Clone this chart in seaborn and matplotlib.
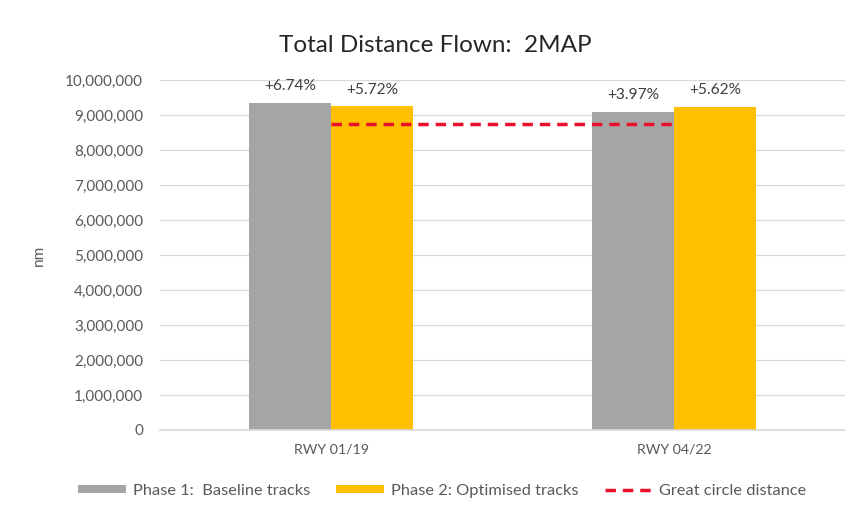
import matplotlib
matplotlib.use("Agg")
import matplotlib.pyplot as plt
import seaborn as sns
import pandas as pd
from matplotlib.ticker import FuncFormatter
from matplotlib.patches import Patch
from matplotlib.lines import Line2D

categories = ["RWY 01/19", "RWY 04/22"]
series_names = ["Phase 1:  Baseline tracks", "Phase 2: Optimised tracks"]
baseline = [9340000, 9100000]
optimised = [9250000, 9240000]
baseline_labels = ["+6.74%", "+3.97%"]
optimised_labels = ["+5.72%", "+5.62%"]
great_circle = [8750000, 8750000]
line_name = "Great circle distance"
title = "Total Distance Flown:  2MAP"
ylabel = "nm"

colors = ["#A5A5A5", "#FFC000"]
line_color = "#E8102A"

sns.set_theme(style="white")
plt.rcParams['font.family'] = ['Lato', 'DejaVu Sans']

df = pd.DataFrame({
    "cat": categories * 2,
    "series": [series_names[0]] * 2 + [series_names[1]] * 2,
    "value": baseline + optimised,
})

fig = plt.figure(figsize=(8.54, 5.13), dpi=100)
ax = fig.add_axes([0.187, 0.162, 0.803, 0.682])

sns.barplot(data=df, x="cat", y="value", hue="series", palette=colors,
            width=0.48, ax=ax, legend=False, saturation=1, errorbar=None,
            linewidth=0, edgecolor="none")

ax.plot([0, 1], great_circle, color=line_color, linestyle=(0, (3, 2)), linewidth=2.5, zorder=5)

labels = baseline_labels + optimised_labels
for patch, lab in zip(ax.patches, labels):
    x = patch.get_x() + patch.get_width() / 2
    h = patch.get_height()
    ax.annotate(lab, (x, h), xytext=(0, 7), textcoords="offset points",
                ha="center", va="bottom", fontsize=11.2, color="#404040")

ax.set_xlim(-0.5, 1.5)
ax.set_ylim(0, 10000000)
ax.set_yticks(range(0, 10000001, 1000000))
ax.yaxis.set_major_formatter(FuncFormatter(lambda v, p: f"{int(v):,}"))
ax.grid(axis="y", color="#D9D9D9", linewidth=0.9)
ax.set_axisbelow(True)
for s in ["top", "right", "left"]:
    ax.spines[s].set_visible(False)
ax.spines["bottom"].set_color("#D9D9D9")
ax.tick_params(axis="y", length=0, labelsize=11, labelcolor="#595959", pad=12)
ax.tick_params(axis="x", length=0, labelsize=10.2, labelcolor="#595959", pad=10)
ax.set_xlabel("")
ax.set_ylabel(ylabel, fontsize=11, color="#595959", labelpad=14)

fig.text(0.51, 0.912, title, ha="center", va="center", fontsize=17.5, color="#262626")

handles = [Patch(facecolor=colors[0], edgecolor="none"),
           Patch(facecolor=colors[1], edgecolor="none"),
           Line2D([0], [0], color=line_color, linestyle=(0, (3, 2)), linewidth=2.5)]
fig.legend(handles, series_names + [line_name], loc="center", bbox_to_anchor=(0.518, 0.043),
           ncol=3, frameon=False, fontsize=11.8, handlelength=2.93, handleheight=0.35,
           handletextpad=0.4, columnspacing=1.6, labelcolor="#595959")

fig.savefig("out.png", dpi=100)
